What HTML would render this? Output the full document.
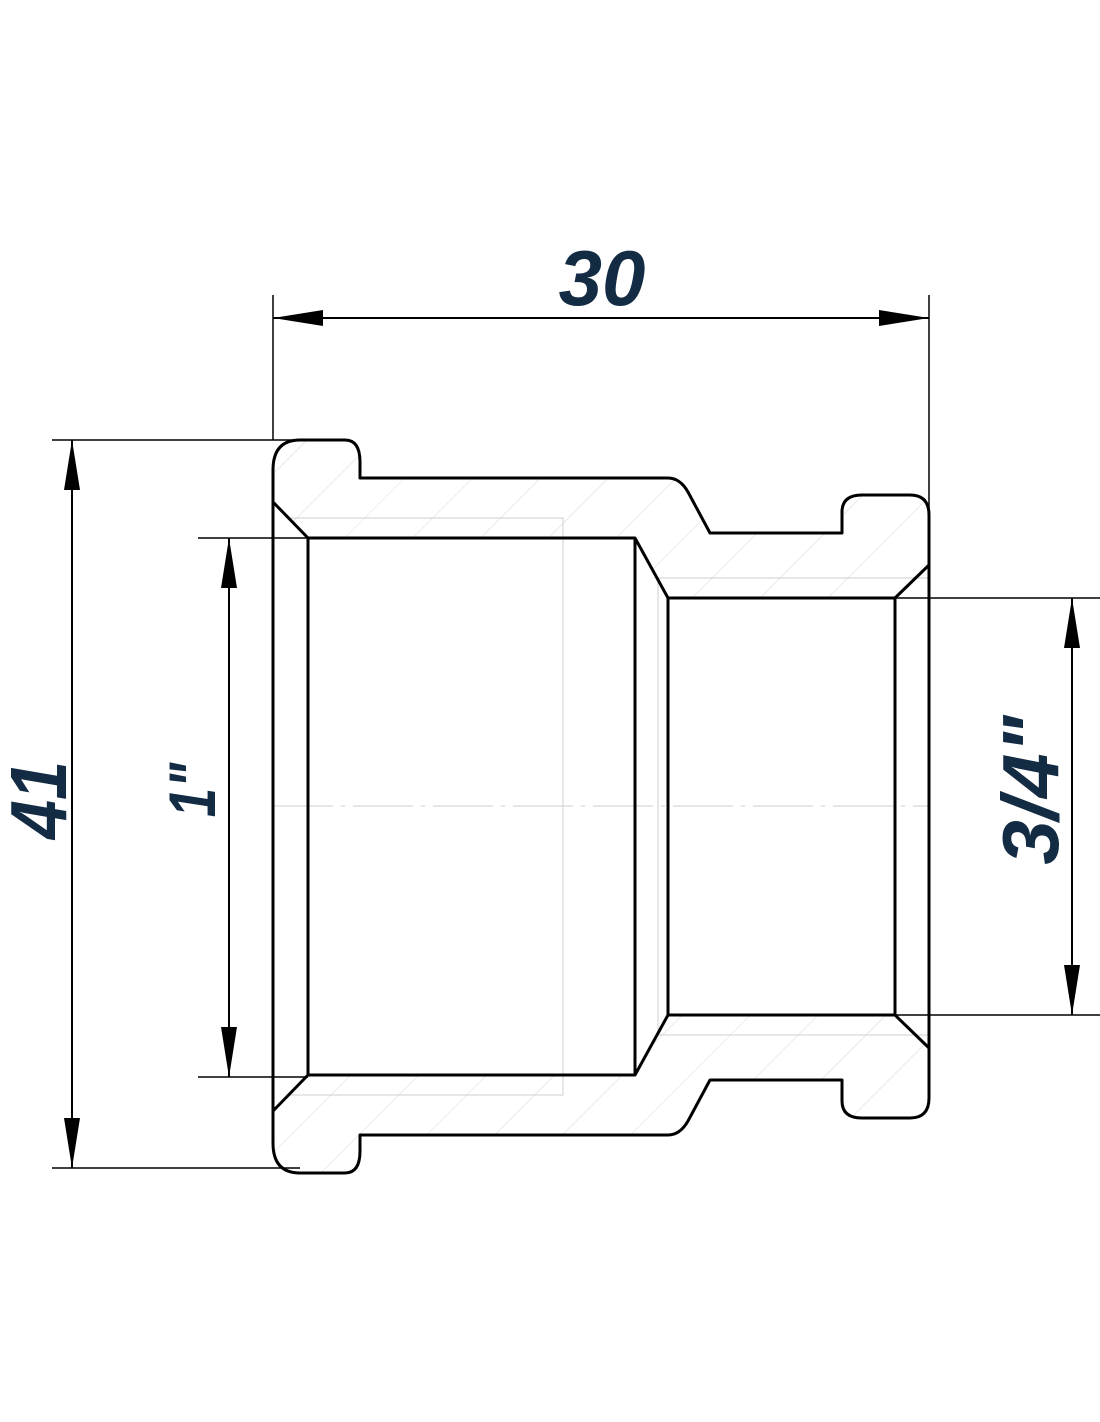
<!DOCTYPE html>
<html><head><meta charset="utf-8"><style>
html,body{margin:0;padding:0;background:#fff;}
svg{display:block;}
text{font-family:"Liberation Sans Narrow","Liberation Sans",sans-serif;font-weight:bold;font-style:italic;fill:#132b43;}
</style></head><body>
<svg width="1100" height="1422" viewBox="0 0 1100 1422" xmlns="http://www.w3.org/2000/svg">
<defs>
<pattern id="h" patternUnits="userSpaceOnUse" width="48" height="48" patternTransform="rotate(45)">
<line x1="0" y1="0" x2="0" y2="48" stroke="#d8d8d8" stroke-width="1"/>
</pattern>
<marker id="a" viewBox="0 0 50 16" refX="50" refY="8" markerWidth="50" markerHeight="16" markerUnits="userSpaceOnUse" orient="auto">
<path d="M0,0 L50,8 L0,16 Z" fill="#000"/>
</marker>
</defs>
<path d="M273,502 L273,470 Q273,440 300,440 L345,440 Q360,440 360,462 L360,478 L668,478 Q680,478 688,492 L710,533 L842,533 L842,512 Q842,495 862,495 L910,495 Q929,495 929,515 L929,565 L895,598 L668,598 L635,538 L308,538 Z" fill="url(#h)"/>
<path d="M273,1111 L273,1143 Q273,1173 300,1173 L345,1173 Q360,1173 360,1151 L360,1135 L668,1135 Q680,1135 688,1121 L710,1080 L842,1080 L842,1101 Q842,1118 862,1118 L910,1118 Q929,1118 929,1098 L929,1048 L895,1015 L668,1015 L635,1075 L308,1075 Z" fill="url(#h)"/>
<g stroke="#cfcfcf" stroke-width="1" fill="none">
<path d="M290,518 L563,518 L563,1095 L290,1095"/>
<path d="M658,578 L929,578 M658,1035 L929,1035 M658,578 L658,1035"/>
<line x1="273" y1="806" x2="929" y2="806" stroke-dasharray="60,8,4,8"/>
</g>
<g stroke="#000" stroke-width="3" fill="none" stroke-linejoin="round">
<path d="M308,538 L273,502 L273,470 Q273,440 300,440 L345,440 Q360,440 360,462 L360,478 L668,478 Q680,478 688,492 L710,533 L842,533 L842,512 Q842,495 862,495 L910,495 Q929,495 929,515 L929,565 L895,598"/>
<path d="M308,1075 L273,1111 L273,1143 Q273,1173 300,1173 L345,1173 Q360,1173 360,1151 L360,1135 L668,1135 Q680,1135 688,1121 L710,1080 L842,1080 L842,1101 Q842,1118 862,1118 L910,1118 Q929,1118 929,1098 L929,1048 L895,1015"/>
<path d="M308,538 L635,538 L668,598 L895,598 L895,1015 L668,1015 L635,1075 L308,1075 Z"/>
<line x1="635" y1="538" x2="635" y2="1075"/>
<line x1="668" y1="598" x2="668" y2="1015"/>
<line x1="273" y1="502" x2="273" y2="1111"/>
<line x1="929" y1="515" x2="929" y2="1098"/>
</g>
<g stroke="#000" stroke-width="1.5" fill="none">
<line x1="273" y1="295" x2="273" y2="440"/>
<line x1="929" y1="295" x2="929" y2="515"/>
<line x1="52" y1="440" x2="300" y2="440"/>
<line x1="52" y1="1168" x2="300" y2="1168"/>
<line x1="198" y1="538" x2="308" y2="538"/>
<line x1="198" y1="1077" x2="308" y2="1077"/>
<line x1="895" y1="598" x2="1100" y2="598"/>
<line x1="895" y1="1015" x2="1100" y2="1015"/>
<g stroke-width="2">
<line x1="300" y1="318" x2="929" y2="318" marker-end="url(#a)"/>
<line x1="900" y1="318" x2="273" y2="318" marker-end="url(#a)"/>
<line x1="72" y1="500" x2="72" y2="440" marker-end="url(#a)"/>
<line x1="72" y1="1100" x2="72" y2="1168" marker-end="url(#a)"/>
<line x1="229" y1="600" x2="229" y2="538" marker-end="url(#a)"/>
<line x1="229" y1="1000" x2="229" y2="1077" marker-end="url(#a)"/>
<line x1="1072" y1="660" x2="1072" y2="598" marker-end="url(#a)"/>
<line x1="1072" y1="950" x2="1072" y2="1015" marker-end="url(#a)"/>
<line x1="72" y1="500" x2="72" y2="1100"/>
<line x1="229" y1="600" x2="229" y2="1000"/>
<line x1="1072" y1="660" x2="1072" y2="950"/>
</g>
</g>
<text x="602" y="305" font-size="78" text-anchor="middle">30</text>
<text transform="translate(66,800) rotate(-90) scale(0.88,1)" font-size="80" text-anchor="middle">41</text>
<text transform="translate(215,790) rotate(-90) scale(0.8,1)" font-size="66" text-anchor="middle">1"</text>
<text transform="translate(1058,790) rotate(-90)" font-size="80" text-anchor="middle">3/4"</text>
</svg>
</body></html>
